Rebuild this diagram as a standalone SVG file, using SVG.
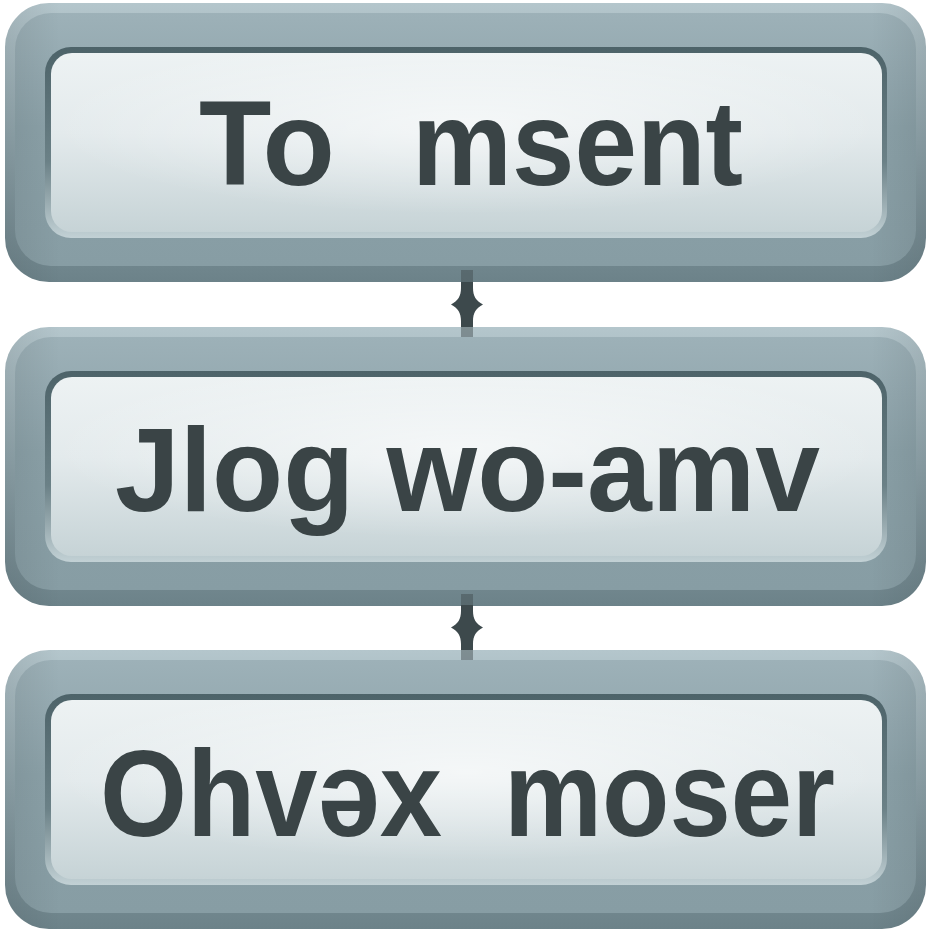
<svg xmlns="http://www.w3.org/2000/svg" width="932" height="932" viewBox="0 0 932 932">
  <defs>
    <linearGradient id="gOuter" x1="0" y1="0" x2="0" y2="1">
      <stop offset="0" stop-color="#b4c6cc"/>
      <stop offset="0.5" stop-color="#8fa4ab"/>
      <stop offset="1" stop-color="#6c8289"/>
    </linearGradient>
    <linearGradient id="gFace" x1="0" y1="0" x2="0" y2="1">
      <stop offset="0" stop-color="#9db1b8"/>
      <stop offset="0.45" stop-color="#8ba1a8"/>
      <stop offset="1" stop-color="#879da4"/>
    </linearGradient>
    <linearGradient id="gSide" x1="0" y1="0" x2="1" y2="0">
      <stop offset="0" stop-color="#000" stop-opacity="0.08"/>
      <stop offset="0.06" stop-color="#000" stop-opacity="0"/>
      <stop offset="0.94" stop-color="#000" stop-opacity="0"/>
      <stop offset="1" stop-color="#000" stop-opacity="0.08"/>
    </linearGradient>
    <linearGradient id="gRecess" x1="0" y1="0" x2="0" y2="1">
      <stop offset="0" stop-color="#4d6369"/>
      <stop offset="0.6" stop-color="#6b8187"/>
      <stop offset="1" stop-color="#c2d1d5"/>
    </linearGradient>
    <linearGradient id="gPanel" x1="0" y1="0" x2="0" y2="1">
      <stop offset="0" stop-color="#edf2f3"/>
      <stop offset="0.45" stop-color="#e3eaec"/>
      <stop offset="1" stop-color="#c6d3d6"/>
    </linearGradient>
    <radialGradient id="gGlow" cx="0.5" cy="0.4" r="0.5">
      <stop offset="0" stop-color="#ffffff" stop-opacity="0.6"/>
      <stop offset="1" stop-color="#ffffff" stop-opacity="0"/>
    </radialGradient>
    <g id="frame">
      <rect x="5" y="3" width="921" height="279" rx="44" fill="url(#gOuter)"/>
      <rect x="15" y="13" width="901" height="253" rx="36" fill="url(#gFace)"/>
      <rect x="5" y="3" width="921" height="279" rx="44" fill="url(#gSide)"/>
      <rect x="45" y="47" width="842" height="191" rx="26" fill="url(#gRecess)"/>
      <rect x="51" y="53" width="831" height="179" rx="21" fill="url(#gPanel)"/>
      <rect x="51" y="53" width="831" height="179" rx="21" fill="url(#gGlow)"/>
    </g>
  </defs>
  <style>
    .lbl { font-family: "Liberation Sans", Arial, "DejaVu Sans", sans-serif; font-weight: bold; fill: #3a4446; }
    .conn { fill: #3d494c; }
    .stub { fill: #3d494c; opacity: 0.45; }
  </style>

  <g id="node1">
    <use href="#frame"/>
    <text class="lbl" font-size="120" y="185"><tspan x="199" textLength="136" lengthAdjust="spacingAndGlyphs">To</tspan> <tspan x="412" textLength="331" lengthAdjust="spacingAndGlyphs">msent</tspan></text>
  </g>

  <g id="node2">
    <use href="#frame" transform="translate(0,324)"/>
    <text class="lbl" font-size="118" x="115" y="511" textLength="705" lengthAdjust="spacingAndGlyphs">Jlog wo-amv</text>
  </g>

  <g id="node3">
    <use href="#frame" transform="translate(0,647)"/>
    <text class="lbl" font-size="122" y="836"><tspan x="100" textLength="342" lengthAdjust="spacingAndGlyphs">Ohvəx</tspan> <tspan x="504" textLength="331" lengthAdjust="spacingAndGlyphs">moser</tspan></text>
  </g>

  <g id="connectors">
    <rect class="stub" x="461" y="270" width="12" height="12"/>
    <path class="conn" d="M461,282 H473 V288 C473,296 476,301 483,304.5 C476,308 473,313 473,321 V327 H461 V321 C461,313 458,308 451,304.5 C458,301 461,296 461,288 Z"/>
    <rect class="stub" x="461" y="327" width="12" height="10"/>
    <rect class="stub" x="461" y="594" width="12" height="12"/>
    <path class="conn" d="M461,605 H473 V611 C473,619 476,624 483,627.5 C476,631 473,636 473,644 V650 H461 V644 C461,636 458,631 451,627.5 C458,624 461,619 461,611 Z"/>
    <rect class="stub" x="461" y="650" width="12" height="10"/>
  </g>
</svg>
